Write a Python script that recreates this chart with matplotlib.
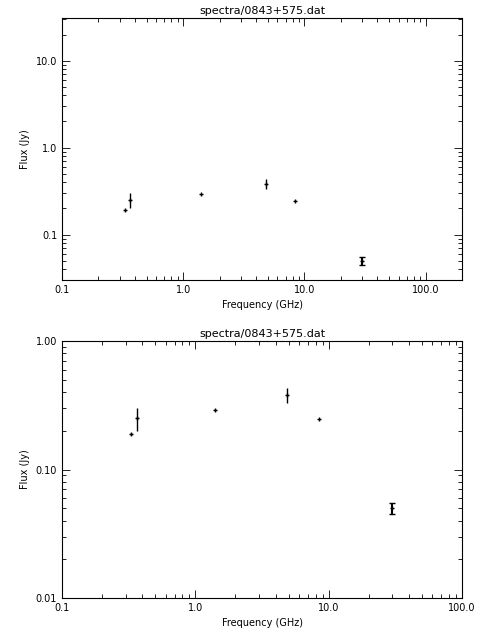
import matplotlib
matplotlib.use("Agg")
import matplotlib.pyplot as plt
from matplotlib.ticker import FixedLocator, NullFormatter, LogLocator

title = "spectra/0843+575.dat"
freq = [0.33, 0.365, 1.4, 4.85, 8.4, 30.0]
flux = [0.19, 0.25, 0.29, 0.38, 0.245, 0.05]
err = [0.004, 0.05, 0.005, 0.05, 0.004, 0.005]

plt.rcParams['font.size'] = 7
fig = plt.figure(figsize=(4.8, 6.4), dpi=100)
W, H = 480, 640
axes_px = [(62, 18, 462, 280, (0.1, 200), (0.03, 31), [0.1, 1, 10], ["0.1", "1.0", "10.0"], ["0.1", "1.0", "10.0", "100.0"]),
           (62, 341, 462, 598, (0.1, 100), (0.01, 1.0), [0.01, 0.1, 1.0], ["0.01", "0.10", "1.00"], ["0.1", "1.0", "10.0", "100.0"])]
for (l, t, r, b, xl, yl, yt, ytl, xtl) in axes_px:
    ax = fig.add_axes([l / W, 1 - b / H, (r - l) / W, (b - t) / H])
    ax.set_xscale('log'); ax.set_yscale('log')
    ax.set_xlim(*xl); ax.set_ylim(*yl)
    ax.errorbar(freq[:-1], flux[:-1], yerr=err[:-1], fmt='+', ms=3, mew=1, color='black', ecolor='black', elinewidth=1, capsize=0)
    ax.errorbar(freq[-1:], flux[-1:], yerr=err[-1:], fmt='+', ms=3, mew=1, color='black', ecolor='black', elinewidth=1.5, capsize=2, capthick=1.2)
    ax.xaxis.set_major_locator(FixedLocator([0.1, 1, 10, 100]))
    ax.set_xticklabels(xtl)
    ax.yaxis.set_major_locator(FixedLocator(yt))
    ax.set_yticklabels(ytl)
    ax.xaxis.set_minor_locator(LogLocator(subs=range(2, 10)))
    ax.yaxis.set_minor_locator(LogLocator(subs=range(2, 10)))
    ax.xaxis.set_minor_formatter(NullFormatter())
    ax.yaxis.set_minor_formatter(NullFormatter())
    ax.tick_params(which='both', direction='in', top=True, right=True, width=0.6)
    ax.tick_params(which='major', length=6)
    ax.tick_params(which='minor', length=3)
    for s in ax.spines.values():
        s.set_linewidth(0.8)
    ax.set_xlabel("Frequency (GHz)")
    ax.set_ylabel("Flux (Jy)")
    ax.set_title(title, fontsize=8, pad=3)
fig.savefig("out.png", dpi=100)
